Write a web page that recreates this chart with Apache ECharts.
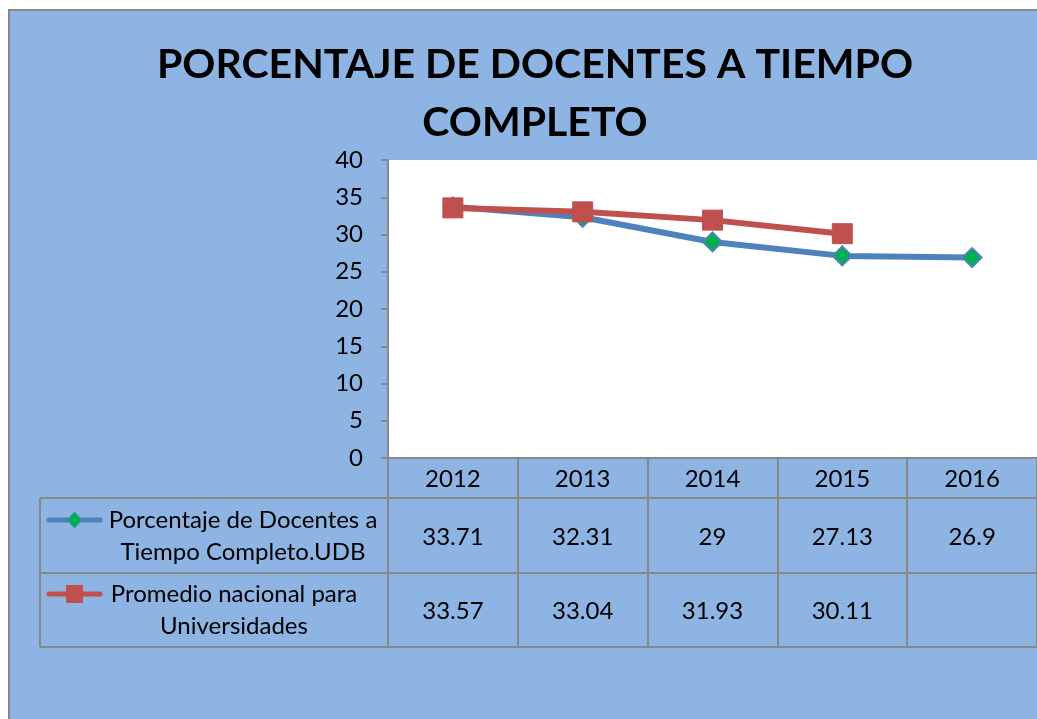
<!DOCTYPE html>
<html>
<head>
<meta charset="utf-8">
<script src="https://cdn.jsdelivr.net/npm/echarts@6/dist/echarts.min.js"></script>
<style>
  html, body { margin: 0; padding: 0; background: #fff; }
  #chart { width: 1037px; height: 719px; }
</style>
</head>
<body>
<div id="chart"></div>
<script>
const years = ['2012', '2013', '2014', '2015', '2016'];
const udbValues = [33.71, 32.31, 29, 27.13, 26.9];
const nacionalValues = [33.57, 33.04, 31.93, 30.11, null];
const udbName = 'Porcentaje de Docentes a Tiempo Completo.UDB';
const nacionalName = 'Promedio nacional para Universidades';

const BG = '#8EB4E3';
const GRID_LINE = '#888888';
const BLUE = '#4F81BD';
const GREEN = '#00B050';
const RED = '#C0504D';
const FONT = 'Lato, "Open Sans", sans-serif';
const FONT_SIZE = 24;

const chart = echarts.init(document.getElementById('chart'));

const labelStyle = { color: '#000', fontSize: FONT_SIZE, fontFamily: FONT };

const tableLine = (x1, y1, x2, y2) => ({
  type: 'line',
  shape: { x1, y1, x2, y2 },
  style: { stroke: GRID_LINE, lineWidth: 2 },
  z: 10
});

const legendText = (x, y, text) => ({
  type: 'text', x, y, z: 10,
  style: { text, fill: '#000', font: FONT_SIZE + 'px ' + FONT, textAlign: 'center', textVerticalAlign: 'middle' }
});

chart.setOption({
  backgroundColor: '#fff',
  animation: false,
  title: {
    text: 'PORCENTAJE DE DOCENTES A TIEMPO\nCOMPLETO',
    left: 530,
    top: 31,
    textAlign: 'center',
    textStyle: { fontSize: 41, fontWeight: 'bold', fontFamily: FONT, color: '#000', lineHeight: 58 }
  },
  grid: {
    left: 388, top: 160, width: 649, height: 298,
    show: true, backgroundColor: '#fff', borderWidth: 0
  },
  xAxis: [
    {
      type: 'category', data: years, position: 'bottom',
      axisLine: { lineStyle: { color: GRID_LINE, width: 2 } },
      axisTick: { show: true, length: 189, lineStyle: { color: GRID_LINE, width: 2 } },
      axisLabel: Object.assign({ margin: 9 }, labelStyle)
    },
    {
      type: 'category', data: years, position: 'bottom', offset: 40,
      axisLine: { show: false }, axisTick: { show: false },
      axisLabel: Object.assign({ margin: 27, formatter: (v, i) => String(udbValues[i]) }, labelStyle)
    },
    {
      type: 'category', data: years, position: 'bottom', offset: 115,
      axisLine: { show: false }, axisTick: { show: false },
      axisLabel: Object.assign({ margin: 26, formatter: (v, i) => nacionalValues[i] == null ? '' : String(nacionalValues[i]) }, labelStyle)
    }
  ],
  yAxis: {
    type: 'value', min: 0, max: 40, interval: 5,
    axisLine: { show: true, lineStyle: { color: GRID_LINE, width: 2 } },
    axisTick: { show: true, length: 7, lineStyle: { color: GRID_LINE, width: 2 } },
    splitLine: { show: false },
    axisLabel: Object.assign({ margin: 25 }, labelStyle)
  },
  series: [
    {
      name: udbName, type: 'line', data: udbValues, xAxisIndex: 0,
      symbol: 'diamond', symbolSize: 19,
      lineStyle: { color: BLUE, width: 6 },
      itemStyle: { color: GREEN, borderColor: BLUE, borderWidth: 2 }
    },
    {
      name: nacionalName, type: 'line', data: nacionalValues, xAxisIndex: 0,
      symbol: 'rect', symbolSize: 20,
      lineStyle: { color: RED, width: 6 },
      itemStyle: { color: RED, borderColor: RED, borderWidth: 1 }
    }
  ],
  graphic: [
    { type: 'rect', shape: { x: 9, y: 10, width: 1040, height: 720 }, style: { fill: BG, stroke: GRID_LINE, lineWidth: 2 }, z: -10, silent: true },
    tableLine(40, 498, 1037, 498),
    tableLine(40, 573, 1037, 573),
    tableLine(40, 647, 1037, 647),
    tableLine(40, 498, 40, 647),
    // legend keys
    { type: 'line', shape: { x1: 49, y1: 520, x2: 100, y2: 520 }, style: { stroke: BLUE, lineWidth: 5, lineCap: 'round' }, z: 10 },
    { type: 'polygon', shape: { points: [[74.5, 512], [82, 520], [74.5, 528], [67, 520]] }, style: { fill: GREEN, stroke: BLUE, lineWidth: 1 }, z: 11 },
    { type: 'line', shape: { x1: 49, y1: 594, x2: 100, y2: 594 }, style: { stroke: RED, lineWidth: 5, lineCap: 'round' }, z: 10 },
    { type: 'rect', shape: { x: 66, y: 585, width: 17, height: 18 }, style: { fill: RED }, z: 11 },
    legendText(243, 520, 'Porcentaje de Docentes a'),
    legendText(243, 552, 'Tiempo Completo.UDB'),
    legendText(234, 594, 'Promedio nacional para'),
    legendText(234, 626, 'Universidades')
  ]
});
</script>
</body>
</html>
